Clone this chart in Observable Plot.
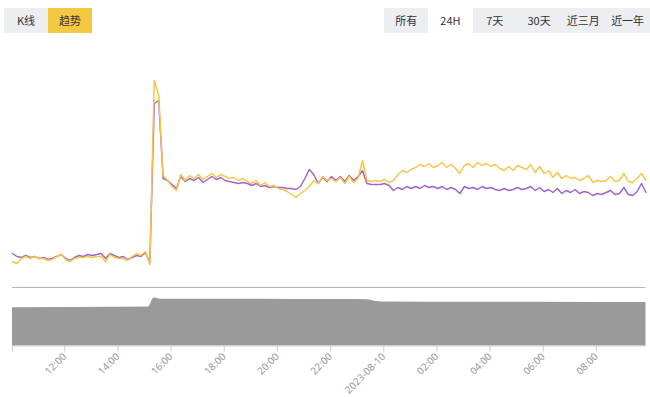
<!DOCTYPE html>
<html>
<head>
<meta charset="utf-8">
<script src="https://cdn.jsdelivr.net/npm/d3@7"></script>
<script src="https://cdn.jsdelivr.net/npm/@observablehq/plot@0.6"></script>
<style>
  html, body { margin: 0; padding: 0; background: #fff; }
  body { width: 650px; height: 397px; position: relative; overflow: hidden;
         font-family: "Noto Sans CJK SC", "Noto Sans", sans-serif; }
  .btns { position: absolute; top: 8px; height: 25px; display: flex; background: #eceef1; }
  .btns div { height: 25px; line-height: 25px; text-align: center; font-size: 11px; color: #333; }
  #left { left: 4px; }
  #left div { width: 44px; }
  #right { left: 384px; width: 266px; }
  #right div { width: 44.3px; }
  .on-y { background: #f5c842; }
  .on-w { background: #fff; }
  #c1 { position: absolute; left: 0; top: 40px; }
  #c2 { position: absolute; left: 0; top: 280px; }
  #c2 g[aria-label="x-axis tick"] { stroke: #ccc; }
</style>
</head>
<body>
<div class="btns" id="left"><div>K线</div><div class="on-y">趋势</div></div>
<div class="btns" id="right"><div>所有</div><div class="on-w">24H</div><div>7天</div><div>30天</div><div>近三月</div><div>近一年</div></div>
<div id="c1"></div>
<div id="c2"></div>
<script>
// ---- data ----
const startTime = "2023-08-09T10:02Z";
const stepMinutes = 10;
const yellowSeries = [4,2,7,9,7,9,7,7,5,6,9,11,6,4,7,8,8,9,8,9,9,4,11,8,7,7,5,9,12,10,14,1,185,170,
  90,85,79,75,91,85,90,87,91,86,89,92,88,91,89,87,88,85,87,84,82,85,80,83,79,80,77,76,74,71,68,72,75,79,85,82,
  89,85,87,84,88,82,89,83,87,105,85,84,85,84,86,83,85,91,95,93,96,98,101,99,102,98,100,103,98,101,97,92,
  100,102,98,103,100,102,99,101,97,95,99,95,100,98,96,101,93,99,92,95,88,93,87,90,87,88,85,87,90,83,85,84,
  85,89,84,85,92,84,83,87,92,85];
const purpleSeries = [12,9,8,10,8,9,7,8,6,7,9,11,7,5,8,10,9,11,10,11,12,7,12,10,8,9,6,8,10,9,13,3,162,165,
  87,85,81,77,89,84,87,85,88,83,86,89,86,88,85,84,83,82,83,82,80,82,79,80,78,79,78,78,77,77,76,79,87,96,91,82,
  88,84,89,85,89,84,90,85,89,95,82,81,81,81,82,80,75,78,76,79,77,79,77,80,78,79,77,79,76,78,76,72,
  79,77,78,76,79,77,78,76,75,77,75,76,78,76,77,79,75,78,74,76,73,77,72,75,73,76,72,74,73,70,72,71,
  73,75,71,72,78,71,70,74,82,73];
const volumeTimes = ["2023-08-09T10:02Z","2023-08-09T12:00Z","2023-08-09T14:00Z","2023-08-09T15:10Z",
  "2023-08-09T15:14Z","2023-08-09T15:18Z","2023-08-09T15:22Z","2023-08-09T15:28Z","2023-08-09T15:34Z",
  "2023-08-09T17:00Z","2023-08-09T19:00Z","2023-08-09T21:00Z","2023-08-09T23:00Z","2023-08-09T23:25Z",
  "2023-08-09T23:40Z","2023-08-09T23:55Z","2023-08-10T02:00Z","2023-08-10T04:00Z","2023-08-10T06:00Z",
  "2023-08-10T08:00Z","2023-08-10T09:52Z"];
const volumeValues = [65.3,65.6,66.2,66.7,72,80,82,81.5,80,80,79.8,79.6,79.3,79.2,76.5,75.3,75.0,74.8,74.6,74.4,74.2];
const tickTimes = ["2023-08-09T10:02Z","2023-08-09T12:00Z","2023-08-09T14:00Z","2023-08-09T16:00Z",
  "2023-08-09T18:00Z","2023-08-09T20:00Z","2023-08-09T22:00Z","2023-08-10T00:00Z","2023-08-10T02:00Z",
  "2023-08-10T04:00Z","2023-08-10T06:00Z","2023-08-10T08:00Z"];
const yellowColor = "#f4c64a";
const purpleColor = "#a264c9";

// ---- build ----
const t0 = new Date(startTime);
const rows = yellowSeries.map((v, i) => ({
  t: new Date(+t0 + i * stepMinutes * 60000), yellow: v, purple: purpleSeries[i]
}));
const tEnd = rows[rows.length - 1].t;
const vol = volumeTimes.map((s, i) => ({t: new Date(s), v: volumeValues[i]}));
const ticks = tickTimes.map(s => new Date(s));
const fmtDate = d3.utcFormat("%Y-%m-%d"), fmtTime = d3.utcFormat("%H:%M");
const tickFormat = d => d.getUTCMinutes() !== 0 ? "" : (d.getUTCHours() === 0 ? fmtDate(d) : fmtTime(d));

const c1 = Plot.plot({
  width: 650, height: 240,
  marginLeft: 12, marginRight: 4.5, marginTop: 25, marginBottom: 15,
  x: {type: "utc", domain: [t0, tEnd], axis: null},
  y: {domain: [0, 200], axis: null},
  marks: [
    Plot.lineY(rows, {x: "t", y: "purple", stroke: purpleColor, strokeWidth: 1.5}),
    Plot.lineY(rows, {x: "t", y: "yellow", stroke: yellowColor, strokeWidth: 1.5})
  ]
});
document.getElementById("c1").appendChild(c1);

const c2 = Plot.plot({
  width: 650, height: 117,
  marginLeft: 12, marginRight: 4.5, marginTop: 7, marginBottom: 51.5,
  style: {color: "#999", fontSize: "10px", fontFamily: "'Noto Sans', sans-serif"},
  x: {type: "utc", domain: [t0, tEnd], ticks: ticks, tickFormat: tickFormat, tickRotate: -45, tickSize: 6, tickPadding: 3, label: null},
  y: {domain: [0, 100], axis: null},
  marks: [
    Plot.areaY(vol, {x: "t", y: "v", fill: "#9a9a9a"}),
    Plot.ruleY([100], {stroke: "#a9b8ca"}),
    Plot.ruleY([0], {stroke: "#cfcfcf"})
  ]
});
document.getElementById("c2").appendChild(c2);
</script>
</body>
</html>
